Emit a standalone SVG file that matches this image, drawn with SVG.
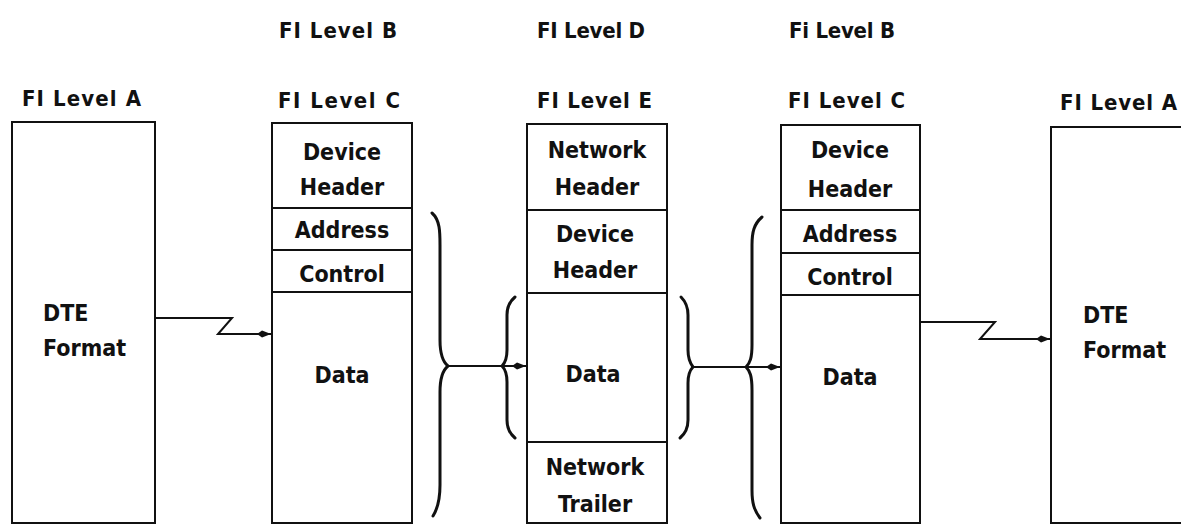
<svg xmlns="http://www.w3.org/2000/svg" width="1181" height="528" viewBox="0 0 1181 528">
<style>
  .box { fill: none; stroke: #111; stroke-width: 2; }
  .div { stroke: #111; stroke-width: 2; }
  .lbl { font-family: "DejaVu Sans Condensed", "Liberation Sans Narrow", "DejaVu Sans", sans-serif; font-size: 22px; font-weight: bold; fill: #111; }
  .t { font-family: "DejaVu Sans Condensed", "Liberation Sans Narrow", "DejaVu Sans", sans-serif; font-size: 23px; font-weight: bold; fill: #111; text-anchor: middle; }
  .tl { font-family: "DejaVu Sans Condensed", "Liberation Sans Narrow", "DejaVu Sans", sans-serif; font-size: 23px; font-weight: bold; fill: #111; }
  .brace { fill: none; stroke: #111; stroke-width: 3; stroke-linecap: round; }
  .conn { fill: none; stroke: #111; stroke-width: 2; }
</style>
<defs>
  <marker id="ah" markerUnits="userSpaceOnUse" markerWidth="16" markerHeight="10" refX="14" refY="5" orient="auto">
    <path d="M0,5 L5,1.5 L14,5 L5,8.5 Z" fill="#111"/>
  </marker>
</defs>
<rect width="1181" height="528" fill="#fff"/>

<g id="labels">
  <text class="lbl" x="279" y="38" textLength="118" lengthAdjust="spacing">FI Level B</text>
  <text class="lbl" x="537" y="38" textLength="108" lengthAdjust="spacing">FI Level D</text>
  <text class="lbl" x="789" y="38" textLength="106" lengthAdjust="spacing">Fi Level B</text>
  <text class="lbl" x="22" y="106" textLength="119" lengthAdjust="spacing">FI Level A</text>
  <text class="lbl" x="278" y="108" textLength="122" lengthAdjust="spacing">FI Level C</text>
  <text class="lbl" x="537" y="108" textLength="115" lengthAdjust="spacing">FI Level E</text>
  <text class="lbl" x="788" y="108" textLength="117" lengthAdjust="spacing">FI Level C</text>
  <text class="lbl" x="1060" y="110" textLength="117" lengthAdjust="spacing">FI Level A</text>
</g>

<g id="node-dte-left">
  <rect class="box" x="12" y="122" width="143" height="401"/>
  <text class="tl" x="43" y="321">DTE</text>
  <text class="tl" x="43" y="356">Format</text>
</g>

<g id="node-frame-c-left">
  <rect class="box" x="272" y="123" width="140" height="400"/>
  <line class="div" x1="272" y1="208" x2="412" y2="208"/>
  <line class="div" x1="272" y1="250" x2="412" y2="250"/>
  <line class="div" x1="272" y1="292" x2="412" y2="292"/>
  <text class="t" x="342" y="160">Device</text>
  <text class="t" x="342" y="195">Header</text>
  <text class="t" x="342" y="238">Address</text>
  <text class="t" x="342" y="282">Control</text>
  <text class="t" x="342" y="383">Data</text>
</g>

<g id="node-frame-e">
  <rect class="box" x="527" y="124" width="140" height="399"/>
  <line class="div" x1="527" y1="210" x2="667" y2="210"/>
  <line class="div" x1="527" y1="293" x2="667" y2="293"/>
  <line class="div" x1="527" y1="442" x2="667" y2="442"/>
  <text class="t" x="597" y="158">Network</text>
  <text class="t" x="597" y="195">Header</text>
  <text class="t" x="595" y="242">Device</text>
  <text class="t" x="595" y="278">Header</text>
  <text class="t" x="593" y="382">Data</text>
  <text class="t" x="595" y="475">Network</text>
  <text class="t" x="595" y="512">Trailer</text>
</g>

<g id="node-frame-c-right">
  <rect class="box" x="781" y="125" width="139" height="398"/>
  <line class="div" x1="781" y1="210" x2="920" y2="210"/>
  <line class="div" x1="781" y1="253" x2="920" y2="253"/>
  <line class="div" x1="781" y1="295" x2="920" y2="295"/>
  <text class="t" x="850" y="158">Device</text>
  <text class="t" x="850" y="197">Header</text>
  <text class="t" x="850" y="242">Address</text>
  <text class="t" x="850" y="285">Control</text>
  <text class="t" x="850" y="385">Data</text>
</g>

<g id="node-dte-right">
  <path class="box" d="M1183,127 H1051 V523 H1183"/>
  <text class="tl" x="1083" y="323">DTE</text>
  <text class="tl" x="1083" y="358">Format</text>
</g>

<g id="braces">
  <path class="brace" d="M432,213 C440,220 440,232 440,245 V340 C440,355 443,362 448,366 C443,370 440,377 440,392 V485 C440,500 438,508 433,516"/>
  <path class="brace" d="M515,297 C509,302 507,307 507,315 V350 C507,358 505,363 502,366 C505,369 507,374 507,382 V420 C507,428 509,433 515,438"/>
  <path class="brace" d="M681,297 C686,302 688,307 688,315 V350 C688,358 690,363 693,367 C690,370 688,375 688,383 V420 C688,428 686,433 680,438"/>
  <path class="brace" d="M762,217 C754,224 752,232 752,245 V345 C752,358 750,363 746,367 C750,371 752,376 752,390 V490 C752,503 754,510 760,518"/>
</g>

<g id="connectors">
  <polyline class="conn" points="155,318 232,318 218,334 271,334" marker-end="url(#ah)"/>
  <line class="conn" x1="448" y1="366" x2="502" y2="366"/>
  <line class="conn" x1="502" y1="366" x2="526" y2="366" marker-end="url(#ah)"/>
  <line class="conn" x1="693" y1="367" x2="746" y2="367"/>
  <line class="conn" x1="746" y1="367" x2="780" y2="367" marker-end="url(#ah)"/>
  <polyline class="conn" points="920,322 995,322 980,339 1050,339" marker-end="url(#ah)"/>
</g>
</svg>
